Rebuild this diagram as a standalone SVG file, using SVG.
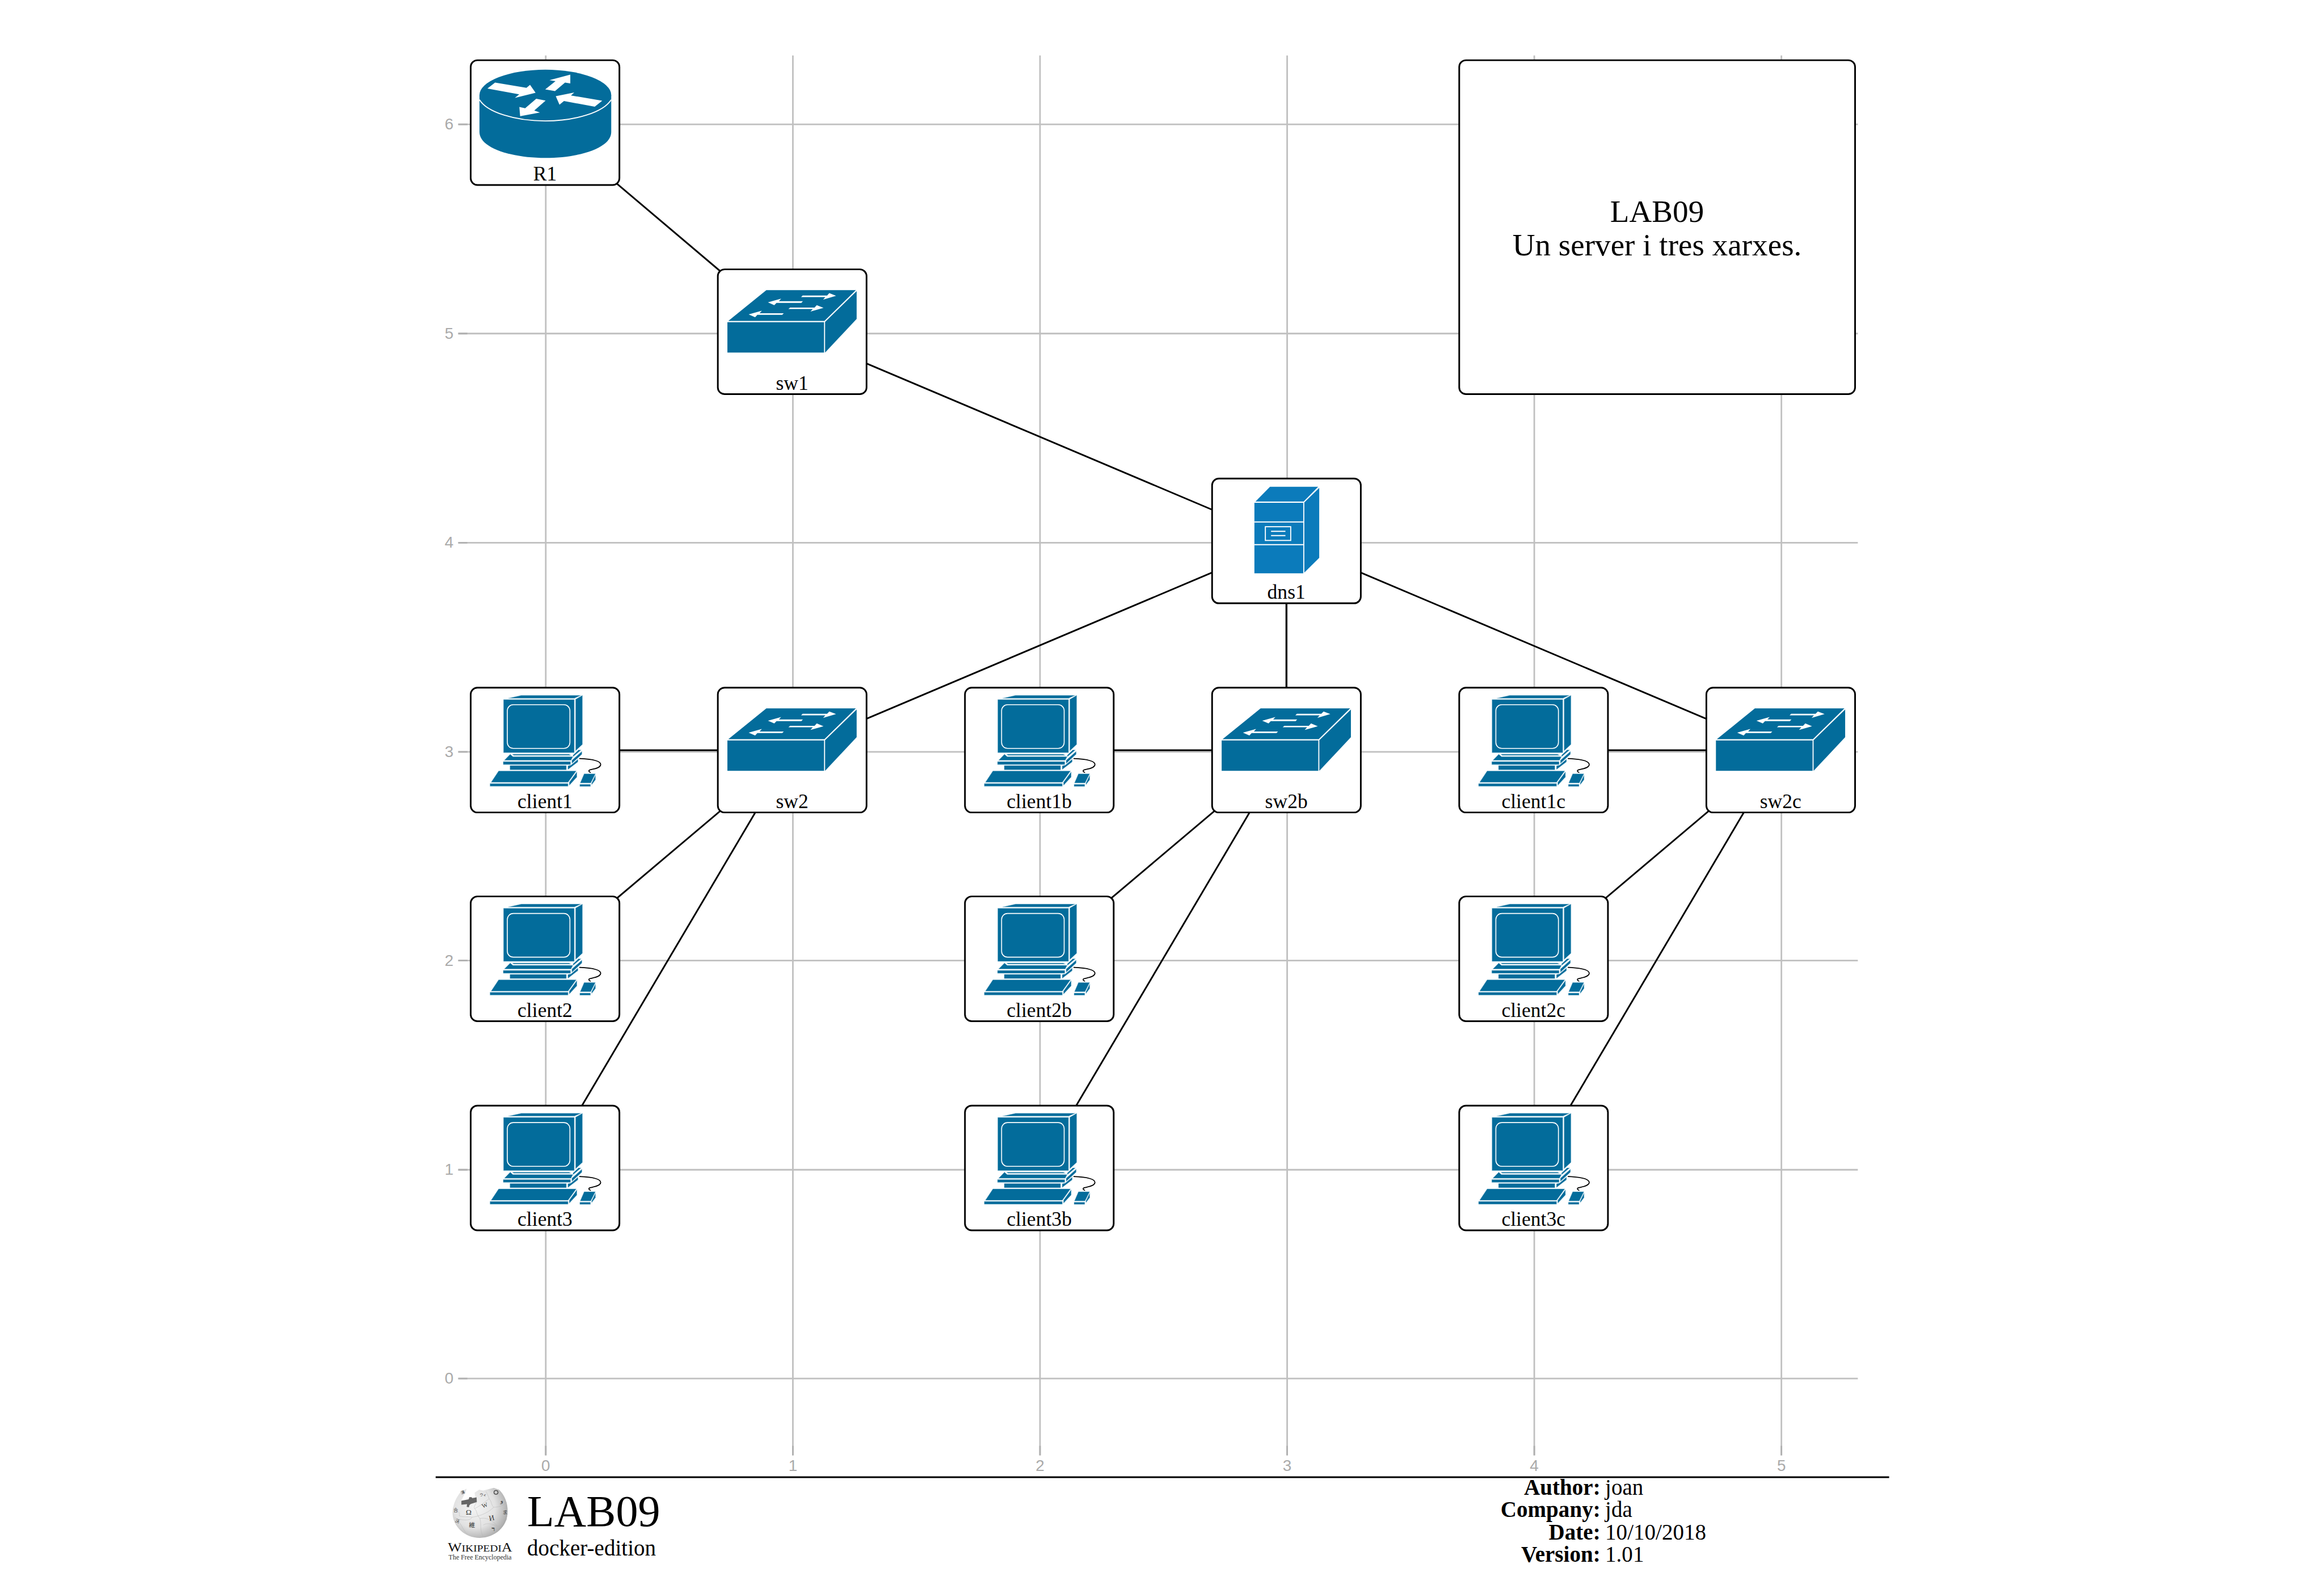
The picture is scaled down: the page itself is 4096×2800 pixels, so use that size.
<svg xmlns="http://www.w3.org/2000/svg" xmlns:xlink="http://www.w3.org/1999/xlink" width="4096" height="2800" viewBox="0 0 4096 2800">
<style>
.bx{fill:#fff;stroke:#000;stroke-width:4.2}
.lb{font:51px "Liberation Serif",serif;text-anchor:middle;fill:#000}
.gr{stroke:#c0c0c0;stroke-width:4;fill:none}
.tk{stroke:#b0b0b0;stroke-width:4;fill:none}
.ax{font:40px "Liberation Sans",sans-serif;fill:#aaa}
.ln{stroke:#000;stroke-width:4.2;fill:none}
.ft{font:56px "Liberation Serif",serif;fill:#000}
.b{fill:#036c9b}
.s{fill:#0b7bbb}
.w{fill:#fff}
.wl{stroke:#fff;fill:none}
.cl{fill:#036c9b;stroke:#9cc6da;stroke-width:2}
.pz{stroke:#b4b4b4;stroke-width:2.2;fill:none}
.gl{fill:#333;font-family:"Liberation Serif","Noto Sans CJK JP",serif}
</style>
<defs>
<radialGradient id="gb" gradientUnits="userSpaceOnUse" cx="235" cy="165" r="285">
<stop offset="0" stop-color="#f4f4f4"/><stop offset=".55" stop-color="#e2e2e2"/><stop offset=".85" stop-color="#b4b4b4"/><stop offset="1" stop-color="#8c8c8c"/>
</radialGradient>
<g id="router" transform="translate(-178,-154) scale(.33333)">
<path class="b" d="M32 240V520C32 640 270 716 531 716C790 716 1030 640 1030 520V240Z"/>
<ellipse class="b" cx="531" cy="240" rx="499" ry="192"/>
<path class="wl" stroke-width="8" d="M32 275C90 370 300 436 531 436C760 436 970 370 1030 275"/>
<polygon class="w" points="150,145 388,185 415,163 457,223 300,261 333,235 92,190"/>
<polygon class="w" points="530,197 608,135 562,127 720,85 720,152 680,145 604,210"/>
<polygon class="w" points="962,283 725,243 750,221 610,248 638,313 672,285 905,328"/>
<polygon class="w" points="533,282 447,357 490,372 340,400 334,330 378,340 462,268"/>
</g>
<g id="switch" transform="translate(-172,-152) scale(.33333)">
<polygon class="b" points="315,127 993,127 755,360 27,360"/>
<polygon class="b" points="20,370 752,370 752,600 20,600"/>
<polygon class="b" points="999,135 999,345 760,600 760,368"/>
<polygon class="w" points="590,168 775,168 792,150 843,170 745,199 762,180 578,180"/>
<polygon class="w" points="327,220 427,192 410,211 592,211 580,224 392,224 375,241"/>
<polygon class="w" points="495,259 680,259 697,241 748,262 649,290 667,270 482,270"/>
<polygon class="w" points="181,311 281,283 264,302 447,302 435,314 247,314 230,332"/>
</g>
<g id="server" transform="translate(-250,-190) scale(.33333)">
<polygon class="s" points="510,258 620,147 985,147 875,258"/>
<polygon class="s" points="502,268 872,268 872,802 502,802"/>
<polygon class="s" points="993,155 993,685 880,797 880,265"/>
<path class="wl" stroke-width="8" d="M502 413H872M502 585H872"/>
<rect class="wl" stroke-width="8" x="585" y="449" width="192" height="104"/>
<path class="wl" stroke-width="9" d="M628 484H737M628 516H737"/>
</g>
<g id="client" transform="translate(-178,-138) scale(.33333)">
<polygon class="cl" points="250,8 349,-14 801,-14 751,8"/>
<polygon class="cl" points="214,18 750,18 750,420 214,420"/>
<rect class="wl" stroke-width="7" x="243" y="57" width="474" height="331" rx="45"/>
<polygon class="cl" points="760,16 812,-14 812,358 760,406"/>
<polygon class="cl" points="280,432 710,432 725,440 292,440"/>
<polygon class="cl" points="220,478 265,432 285,450 710,450 740,450 725,478"/>
<polygon class="cl" points="740,440 782,400 802,400 742,450"/>
<polygon class="cl" points="732,478 808,410 808,432 732,502"/>
<polygon class="cl" points="212,488 722,488 722,510 212,510"/>
<polygon class="cl" points="263,518 690,518 690,550 263,550"/>
<polygon class="cl" points="702,520 725,515 778,470 778,490 702,548"/>
<polygon class="cl" points="177,559 765,559 703,645 120,645"/>
<polygon class="cl" points="112,654 703,654 703,675 112,675"/>
<polygon class="cl" points="770,565 770,605 712,668 712,645"/>
<polygon class="cl" points="825,580 910,580 875,650 795,650"/>
<polygon class="cl" points="792,660 873,660 873,676 792,676"/>
<polygon class="cl" points="911,590 911,625 882,663 882,650"/>
<path d="M788 465C860 468 950 478 950 510C950 540 880 545 865 552C855 558 865 568 875 570" fill="none" stroke="#000" stroke-width="7.5"/>
</g>
</defs>
<rect width="4096" height="2800" fill="#fff"/>
<g transform="scale(.69802)">
<g id="grid">
<path class="gr" d="M1378 140V3674M2002 140V3674M2626 140V3674M3250 140V3674M3874 140V3674M4498 140V3674"/>
<path class="gr" d="M1157 314H4691M1157 842H4691M1157 1370H4691M1157 1898H4691M1157 2425H4691M1157 2953H4691M1157 3480H4691"/>
<path class="tk" d="M1378 3650V3674M2002 3650V3674M2626 3650V3674M3250 3650V3674M3874 3650V3674M4498 3650V3674"/>
<path class="tk" d="M1157 314H1180M1157 842H1180M1157 1370H1180M1157 1898H1180M1157 2425H1180M1157 2953H1180M1157 3480H1180"/>
<g class="ax" text-anchor="middle">
<text x="1378" y="3714">0</text><text x="2002" y="3714">1</text><text x="2626" y="3714">2</text><text x="3250" y="3714">3</text><text x="3874" y="3714">4</text><text x="4498" y="3714">5</text>
</g>
<g class="ax" text-anchor="end">
<text x="1145" y="327">6</text><text x="1145" y="855">5</text><text x="1145" y="1383">4</text><text x="1145" y="1911">3</text><text x="1145" y="2438">2</text><text x="1145" y="2966">1</text><text x="1145" y="3493">0</text>
</g>
</g>
<g id="connectors" class="ln">
<path d="M1376 310L2000 838"/>
<path d="M2000 838L3248 1366"/>
<path d="M3248 1366L2000 1894"/>
<path d="M3248 1366V1894"/>
<path d="M3248 1366L4496 1894"/>
<path d="M1376 1894H2000"/>
<path d="M1376 2421L2000 1894"/>
<path d="M1376 2949L2000 1894"/>
<path d="M2624 1894H3248"/>
<path d="M2624 2421L3248 1894"/>
<path d="M2624 2949L3248 1894"/>
<path d="M3872 1894H4496"/>
<path d="M3872 2421L4496 1894"/>
<path d="M3872 2949L4496 1894"/>
</g>
<g id="R1" transform="translate(1378,314)"><rect class="bx" x="-189.5" y="-162" width="375.5" height="315" rx="17"/><use href="#router"/><text class="lb" x="-2" y="142">R1</text></g>
<g id="sw1" transform="translate(2002,842)"><rect class="bx" x="-189.5" y="-162" width="375.5" height="315" rx="17"/><use href="#switch"/><text class="lb" x="-2" y="142">sw1</text></g>
<g id="dns1" transform="translate(3250,1370)"><rect class="bx" x="-189.5" y="-162" width="375.5" height="315" rx="17"/><use href="#server"/><text class="lb" x="-2" y="142">dns1</text></g>
<g id="client1" transform="translate(1378,1898)"><rect class="bx" x="-189.5" y="-162" width="375.5" height="315" rx="17"/><use href="#client"/><text class="lb" x="-2" y="142">client1</text></g>
<g id="sw2" transform="translate(2002,1898)"><rect class="bx" x="-189.5" y="-162" width="375.5" height="315" rx="17"/><use href="#switch"/><text class="lb" x="-2" y="142">sw2</text></g>
<g id="client1b" transform="translate(2626,1898)"><rect class="bx" x="-189.5" y="-162" width="375.5" height="315" rx="17"/><use href="#client"/><text class="lb" x="-2" y="142">client1b</text></g>
<g id="sw2b" transform="translate(3250,1898)"><rect class="bx" x="-189.5" y="-162" width="375.5" height="315" rx="17"/><use href="#switch"/><text class="lb" x="-2" y="142">sw2b</text></g>
<g id="client1c" transform="translate(3874,1898)"><rect class="bx" x="-189.5" y="-162" width="375.5" height="315" rx="17"/><use href="#client"/><text class="lb" x="-2" y="142">client1c</text></g>
<g id="sw2c" transform="translate(4498,1898)"><rect class="bx" x="-189.5" y="-162" width="375.5" height="315" rx="17"/><use href="#switch"/><text class="lb" x="-2" y="142">sw2c</text></g>
<g id="client2" transform="translate(1378,2425)"><rect class="bx" x="-189.5" y="-162" width="375.5" height="315" rx="17"/><use href="#client"/><text class="lb" x="-2" y="142">client2</text></g>
<g id="client2b" transform="translate(2626,2425)"><rect class="bx" x="-189.5" y="-162" width="375.5" height="315" rx="17"/><use href="#client"/><text class="lb" x="-2" y="142">client2b</text></g>
<g id="client2c" transform="translate(3874,2425)"><rect class="bx" x="-189.5" y="-162" width="375.5" height="315" rx="17"/><use href="#client"/><text class="lb" x="-2" y="142">client2c</text></g>
<g id="client3" transform="translate(1378,2953)"><rect class="bx" x="-189.5" y="-162" width="375.5" height="315" rx="17"/><use href="#client"/><text class="lb" x="-2" y="142">client3</text></g>
<g id="client3b" transform="translate(2626,2953)"><rect class="bx" x="-189.5" y="-162" width="375.5" height="315" rx="17"/><use href="#client"/><text class="lb" x="-2" y="142">client3b</text></g>
<g id="client3c" transform="translate(3874,2953)"><rect class="bx" x="-189.5" y="-162" width="375.5" height="315" rx="17"/><use href="#client"/><text class="lb" x="-2" y="142">client3c</text></g>
<g id="title-box">
<rect class="bx" x="3684.5" y="152" width="999.5" height="843" rx="17"/>
<text x="4184" y="560" text-anchor="middle" style="font:79px 'Liberation Serif',serif">LAB09</text>
<text x="4184" y="644" text-anchor="middle" style="font:79px 'Liberation Serif',serif">Un server i tres xarxes.</text>
</g>
<g id="footer">
<path d="M1100 3729H4770" stroke="#000" stroke-width="4.2"/>
<g id="wikipedia-logo" transform="translate(1120,3750) scale(.33333)">
<path fill="url(#gb)" d="M68 205C70 140 100 85 130 48L175 24L165 55L132 118L190 105L196 88L240 92L235 55L270 32L300 38L380 18L420 32C460 70 488 130 485 200C485 310 390 397 275 397C160 397 68 310 68 205Z"/>
<path fill="#666" d="M135 116L190 105L196 88L215 90L216 96L250 90L252 125L205 140L195 150L192 165L175 162L178 142L135 146Z"/>
<path class="pz" d="M72 170C100 190 130 200 118 230C140 240 170 235 215 240C260 235 330 215 380 165C420 165 450 150 478 130M235 175C260 200 240 205 275 250C290 300 270 330 300 390M100 270C135 280 140 330 180 370M215 240C210 265 150 270 85 245M275 250C320 240 370 260 410 310C440 300 470 275 482 250M250 125C240 150 225 165 235 175C270 160 320 120 345 100C370 130 355 140 380 165M300 300C330 280 370 290 410 310M345 100C340 80 330 60 320 45"/>
<text class="gl" x="318" y="165" font-size="46" transform="rotate(-22 318 165)" text-anchor="middle">W</text>
<text class="gl" x="190" y="222" font-size="58" text-anchor="middle">Ω</text>
<text class="gl" x="368" y="264" font-size="56" text-anchor="middle" transform="rotate(-12 368 264)">И</text>
<text class="gl" x="215" y="314" font-size="46" text-anchor="middle">維</text>
<text class="gl" x="376" y="345" font-size="50" text-anchor="middle" font-weight="bold">ר</text>
<text class="gl" x="300" y="78" font-size="26" text-anchor="middle">ウィ</text>
<text class="gl" x="92" y="200" font-size="36" text-anchor="middle">合</text>
<text class="gl" x="100" y="282" font-size="34" text-anchor="middle" transform="rotate(25 100 282)">沃</text>
<text class="gl" x="466" y="215" font-size="32" text-anchor="middle">求</text>
<text class="gl" x="150" y="62" font-size="30" text-anchor="middle" transform="rotate(-25 150 62)">漢</text>
<text class="gl" x="440" y="132" font-size="44" text-anchor="middle" font-family="DejaVu Sans">و</text>
<ellipse cx="397" cy="52" rx="15" ry="14" fill="none" stroke="#444" stroke-width="6"/>
<text x="32" y="500" font-size="99" font-family="Liberation Serif,serif" fill="#111" textLength="488" lengthAdjust="spacingAndGlyphs">W<tspan font-size="74">IKIPEDI</tspan>A</text>
<text x="38" y="562" font-size="56" font-family="Liberation Serif,serif" fill="#333" textLength="477" lengthAdjust="spacingAndGlyphs">The Free Encyclopedia</text>
</g>
<text x="1331" y="3853" style="font:112px 'Liberation Serif',serif">LAB09</text>
<text class="ft" x="1331" y="3927">docker-edition</text>
<g class="ft" text-anchor="end" style="font-weight:bold">
<text x="4041" y="3773">Author:</text><text x="4041" y="3830">Company:</text><text x="4041" y="3887">Date:</text><text x="4041" y="3943">Version:</text>
</g>
<g class="ft">
<text x="4053" y="3773">joan</text><text x="4053" y="3830">jda</text><text x="4053" y="3887">10/10/2018</text><text x="4053" y="3943">1.01</text>
</g>
</g>
</g>
</svg>
